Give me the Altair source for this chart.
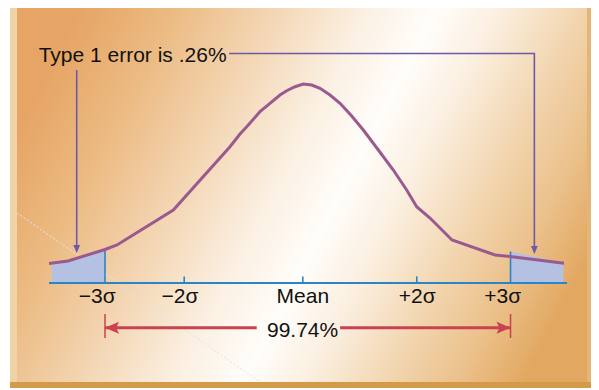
import altair as alt
import pandas as pd

# ---------------- data ----------------
# bell curve, x = position along the axis (0..100), y = height (peak = 100)
curve_x = [0.0, 3.67, 10.81, 13.13, 24.0, 34.94, 36.87, 38.17, 40.73, 42.66, 44.59,
           45.89, 47.49, 49.09, 50.71, 52.32, 54.25, 56.18, 58.44, 60.68, 63.58,
           66.47, 69.05, 70.98, 73.55, 77.8, 86.1, 88.99, 99.42]
curve_y = [9.75, 11.0, 16.75, 19.0, 36.5, 68.15, 74.5, 78.15, 85.65, 89.85, 94.0,
           96.15, 98.15, 99.5, 99.0, 97.35, 94.0, 89.85, 83.5, 76.5, 66.5,
           56.5, 46.5, 38.15, 32.5, 21.5, 14.0, 13.25, 9.85]

# shaded tails
tail_left_x = [0.5, 3.67, 10.81]
tail_left_y = [9.85, 11.0, 16.6]
tail_right_x = [89.1, 99.3]
tail_right_y = [15.7, 10.15]

# axis
axis_start, axis_end = 0.0, 100.0
tick_pos = [10.81, 26.1, 49.0, 71.0, 89.1]
tick_labels = ["\u22123\u03c3", "\u22122\u03c3", "Mean", "+2\u03c3", "+3\u03c3"]
label_pos = [9.3, 25.3, 49.0, 71.1, 87.6]
minor_tick_height = 3.3
sigma3_top = [16.3, None, None, None, 15.7]

# annotation "Type 1 error"
note_text = "Type 1 error is .26%"
note_x, note_y = -2.0, 110.3
conn_left_x, conn_left_top, conn_left_tip = 5.35, 106.5, 15.0
conn_right_x0, conn_right_x1, conn_right_y, conn_right_tip = 34.75, 93.7, 114.75, 14.5

# 99.74% range arrow
range_text = "99.74%"
range_lo, range_hi = 10.81, 89.1
range_y = -22.35
range_gap = [40.1, 56.2]
range_bar = [-15.5, -27.5]
range_text_x, range_text_y = 48.95, -26.9

# ---------------- styling ----------------
W, H = 583, 380
XDOM = [-7.915, 104.633]
YDOM = [-52.5, 137.5]
FONT = "Liberation Sans"
C_CURVE = "#9b5a8f"
C_CONN = "#6d5aa6"
C_BLUE = "#2a85c8"
C_FILL = "#b4c1e3"
C_RED = "#c9424f"

xs = alt.Scale(domain=XDOM, nice=False, zero=False)
ys = alt.Scale(domain=YDOM, nice=False, zero=False)


def X(f="x"):
    return alt.X(f"{f}:Q", scale=xs, axis=None)


def Y(f="y"):
    return alt.Y(f"{f}:Q", scale=ys, axis=None)


one = alt.Data(values=[{"a": 0}])

# ---------------- frame / background ----------------
gradient = {
    "gradient": "linear", "x1": 0, "y1": 0.33, "x2": 1, "y2": 0.67,
    "stops": [
        {"offset": 0.0, "color": "#e6a565"},
        {"offset": 0.15, "color": "#ecbb83"},
        {"offset": 0.3, "color": "#f3d5b2"},
        {"offset": 0.45, "color": "#fbf0e2"},
        {"offset": 0.56, "color": "#fffdfa"},
        {"offset": 0.66, "color": "#fbefe0"},
        {"offset": 0.8, "color": "#f1d3ab"},
        {"offset": 0.9, "color": "#ebc08a"},
        {"offset": 1.0, "color": "#e2a862"},
    ],
}
bg = alt.Chart(one).mark_rect(color=gradient).encode(
    x=alt.value(9), x2=alt.value(579), y=alt.value(0), y2=alt.value(374))
left_strip = alt.Chart(one).mark_rect(color="#edd3a6").encode(
    x=alt.value(2), x2=alt.value(9), y=alt.value(0), y2=alt.value(380))
right_strip = alt.Chart(one).mark_rect(color="#e2b676").encode(
    x=alt.value(579), x2=alt.value(583), y=alt.value(0), y2=alt.value(380))
bottom_band = alt.Chart(one).mark_rect(color="#d39a4a").encode(
    x=alt.value(2), x2=alt.value(583), y=alt.value(374), y2=alt.value(380))
artifact = alt.Chart(one).mark_rule(color="#e4e4e4", strokeWidth=1.2,
                                    strokeDash=[2, 2], opacity=0.8).encode(
    x=alt.value(9), y=alt.value(205), x2=alt.value(252), y2=alt.value(374))

# ---------------- tails ----------------
tl = pd.DataFrame({"x": tail_left_x, "y": tail_left_y})
tr = pd.DataFrame({"x": tail_right_x, "y": tail_right_y})
tail_l = alt.Chart(tl).mark_area(color=C_FILL).encode(
    x=X(), y=Y(), y2=alt.datum(0))
tail_r = alt.Chart(tr).mark_area(color=C_FILL).encode(
    x=X(), y=Y(), y2=alt.datum(0))

# ---------------- axis ----------------
ticks = pd.DataFrame({"x": tick_pos, "label": tick_labels, "lx": label_pos,
                      "top": [t if t is not None else minor_tick_height for t in sigma3_top]})
axis_line = alt.Chart(one).mark_rule(color=C_BLUE, strokeWidth=2).encode(
    x=alt.datum(axis_start, scale=xs, axis=None), x2=alt.datum(axis_end),
    y=alt.datum(0, scale=ys, axis=None))
tick_marks = alt.Chart(ticks).mark_rule(color=C_BLUE, strokeWidth=1.6).encode(
    x=X(), y=alt.Y("zero:Q", scale=ys, axis=None), y2="top:Q"
).transform_calculate(zero="0")
tick_text = alt.Chart(ticks).mark_text(font=FONT, fontSize=21, color="#111111",
                                       baseline="alphabetic", dy=20).encode(
    x=X("lx"), y=alt.datum(0, scale=ys, axis=None), text="label:N")

# ---------------- curve ----------------
cd = pd.DataFrame({"x": curve_x, "y": curve_y})
curve = alt.Chart(cd).mark_line(color=C_CURVE, strokeWidth=3,
                                interpolate="linear").encode(x=X(), y=Y())

# ---------------- annotation ----------------
conn = pd.DataFrame({
    "x": [conn_left_x, conn_left_x,
          conn_right_x0, conn_right_x1, conn_right_x1],
    "y": [conn_left_top, conn_left_tip + 4,
          conn_right_y, conn_right_y, conn_right_tip + 4],
    "g": ["l", "l", "r", "r", "r"],
    "o": [0, 1, 0, 1, 2],
})
conn_lines = alt.Chart(conn).mark_line(color=C_CONN, strokeWidth=1.6).encode(
    x=X(), y=Y(), detail="g:N", order="o:Q")
heads = pd.DataFrame({"x": [conn_left_x, conn_right_x1],
                      "y": [conn_left_tip, conn_right_tip]})
conn_heads = alt.Chart(heads).mark_point(
    shape="M0,0L-0.85,-2L0.85,-2Z", size=64, filled=True, opacity=1,
    color=C_CONN, strokeWidth=0).encode(x=X(), y=Y())
note = alt.Chart(pd.DataFrame({"x": [note_x], "y": [note_y], "t": [note_text]})).mark_text(
    font=FONT, fontSize=21, color="#111111", align="left", baseline="alphabetic"
).encode(x=X(), y=Y(), text="t:N")

# ---------------- 99.74% range arrow ----------------
rng = pd.DataFrame({"x": [range_lo, range_gap[1]], "x2": [range_gap[0], range_hi]})
rng_lines = alt.Chart(rng).mark_rule(color=C_RED, strokeWidth=3).encode(
    x=X(), x2="x2:Q", y=alt.datum(range_y, scale=ys, axis=None))
bars = pd.DataFrame({"x": [range_lo, range_hi]})
rng_bars = alt.Chart(bars).mark_rule(color=C_RED, strokeWidth=1.5).encode(
    x=X(), y=alt.datum(range_bar[0], scale=ys, axis=None), y2=alt.datum(range_bar[1]))
head_l = alt.Chart(pd.DataFrame({"x": [range_lo], "y": [range_y]})).mark_point(
    shape="M0,0L2,-0.86L1.6,0L2,0.86Z", size=196, filled=True, opacity=1,
    color=C_RED, strokeWidth=0).encode(x=X(), y=Y())
head_r = alt.Chart(pd.DataFrame({"x": [range_hi], "y": [range_y]})).mark_point(
    shape="M0,0L-2,-0.86L-1.6,0L-2,0.86Z", size=196, filled=True, opacity=1,
    color=C_RED, strokeWidth=0).encode(x=X(), y=Y())
rng_text = alt.Chart(pd.DataFrame({"x": [range_text_x], "y": [range_text_y],
                                   "t": [range_text]})).mark_text(
    font=FONT, fontSize=21, color="#111111", baseline="alphabetic"
).encode(x=X(), y=Y(), text="t:N")

chart = alt.layer(
    bg, left_strip, right_strip, bottom_band, artifact,
    tail_l, tail_r, axis_line, tick_marks, tick_text, curve,
    conn_lines, conn_heads, note, rng_lines, rng_bars, head_l, head_r, rng_text,
).properties(
    width=W, height=H, padding=0, autosize=alt.AutoSizeParams(type="none"),
).configure_view(strokeWidth=0)

chart.save("out.html", embed_options={"renderer": "svg", "actions": False})
